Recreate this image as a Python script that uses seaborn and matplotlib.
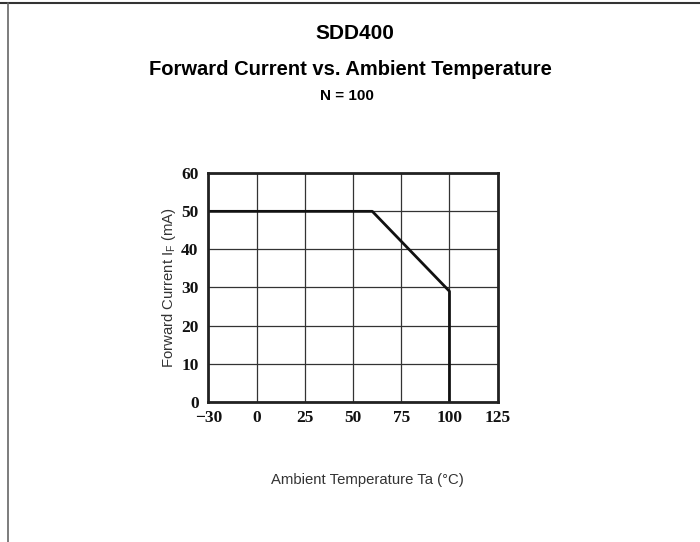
import numpy as np
import matplotlib
matplotlib.use("Agg")
import matplotlib.pyplot as plt
from matplotlib.lines import Line2D
import seaborn as sns

# data
temp_c = [-30, 60, 100, 100]
current_ma = [50, 50, 29, 0]
x_ticks = [-30, 0, 25, 50, 75, 100, 125]
y_ticks = [0, 10, 20, 30, 40, 50, 60]

sns.set_style("white")
plt.rcParams['font.family'] = ['Liberation Sans', 'DejaVu Sans']

fig = plt.figure(figsize=(7, 5.42), dpi=100)
ax = fig.add_axes([0.2976, 0.2589, 0.4134, 0.4214])


# the -30..0 step is drawn as wide as a 25 degree step
def fwd(x):
    x = np.asarray(x, dtype=float)
    return np.where(x < 0, x * 25.0 / 30.0, x)


def inv(y):
    y = np.asarray(y, dtype=float)
    return np.where(y < 0, y * 30.0 / 25.0, y)


ax.set_xscale('function', functions=(fwd, inv))

sns.lineplot(x=temp_c, y=current_ma, sort=False, estimator=None,
             color='#111111', lw=2.0, ax=ax)

ax.set_xlim(-30, 125)
ax.set_ylim(0, 60)
ax.set_xticks(x_ticks)
ax.set_yticks(y_ticks)
ax.set_xticklabels([str(t).replace('-', '\u2212') for t in x_ticks])
ax.grid(True, color='#333333', lw=0.9)
ax.set_axisbelow(True)
for s in ax.spines.values():
    s.set_linewidth(2.0)
    s.set_color('#222222')
ax.tick_params(axis='x', length=0, pad=6)
ax.tick_params(axis='y', length=0, pad=7)
for lab in ax.get_xticklabels() + ax.get_yticklabels():
    lab.set_family(['Liberation Serif', 'DejaVu Serif'])
    lab.set_fontweight('bold')
    lab.set_fontsize(12.5)
    lab.set_color('#111111')

ax.set_ylabel('Forward Current I$_\\mathregular{F}$ (mA)', fontsize=10.7, color='#333333', labelpad=2)
ax.set_xlabel('')

fig.text(0.525, 0.114, 'Ambient Temperature Ta (\u00b0C)', ha='center', va='center',
         fontsize=10.7, color='#333333')

fig.text(0.507, 0.939, 'SDD400', ha='center', va='center', fontsize=15,
         fontweight='bold', color='black')
fig.text(0.50, 0.872, 'Forward Current vs. Ambient Temperature', ha='center', va='center',
         fontsize=14.5, fontweight='bold', color='black')
fig.text(0.496, 0.822, 'N = 100', ha='center', va='center', fontsize=11,
         fontweight='bold', color='black')

# page frame lines
fig.add_artist(Line2D([0, 1], [0.995, 0.995], color='#333333', lw=1.5, transform=fig.transFigure))
fig.add_artist(Line2D([0.0115, 0.0115], [0, 0.995], color='#666666', lw=1.2, transform=fig.transFigure))

fig.savefig('out.png', dpi=100)
